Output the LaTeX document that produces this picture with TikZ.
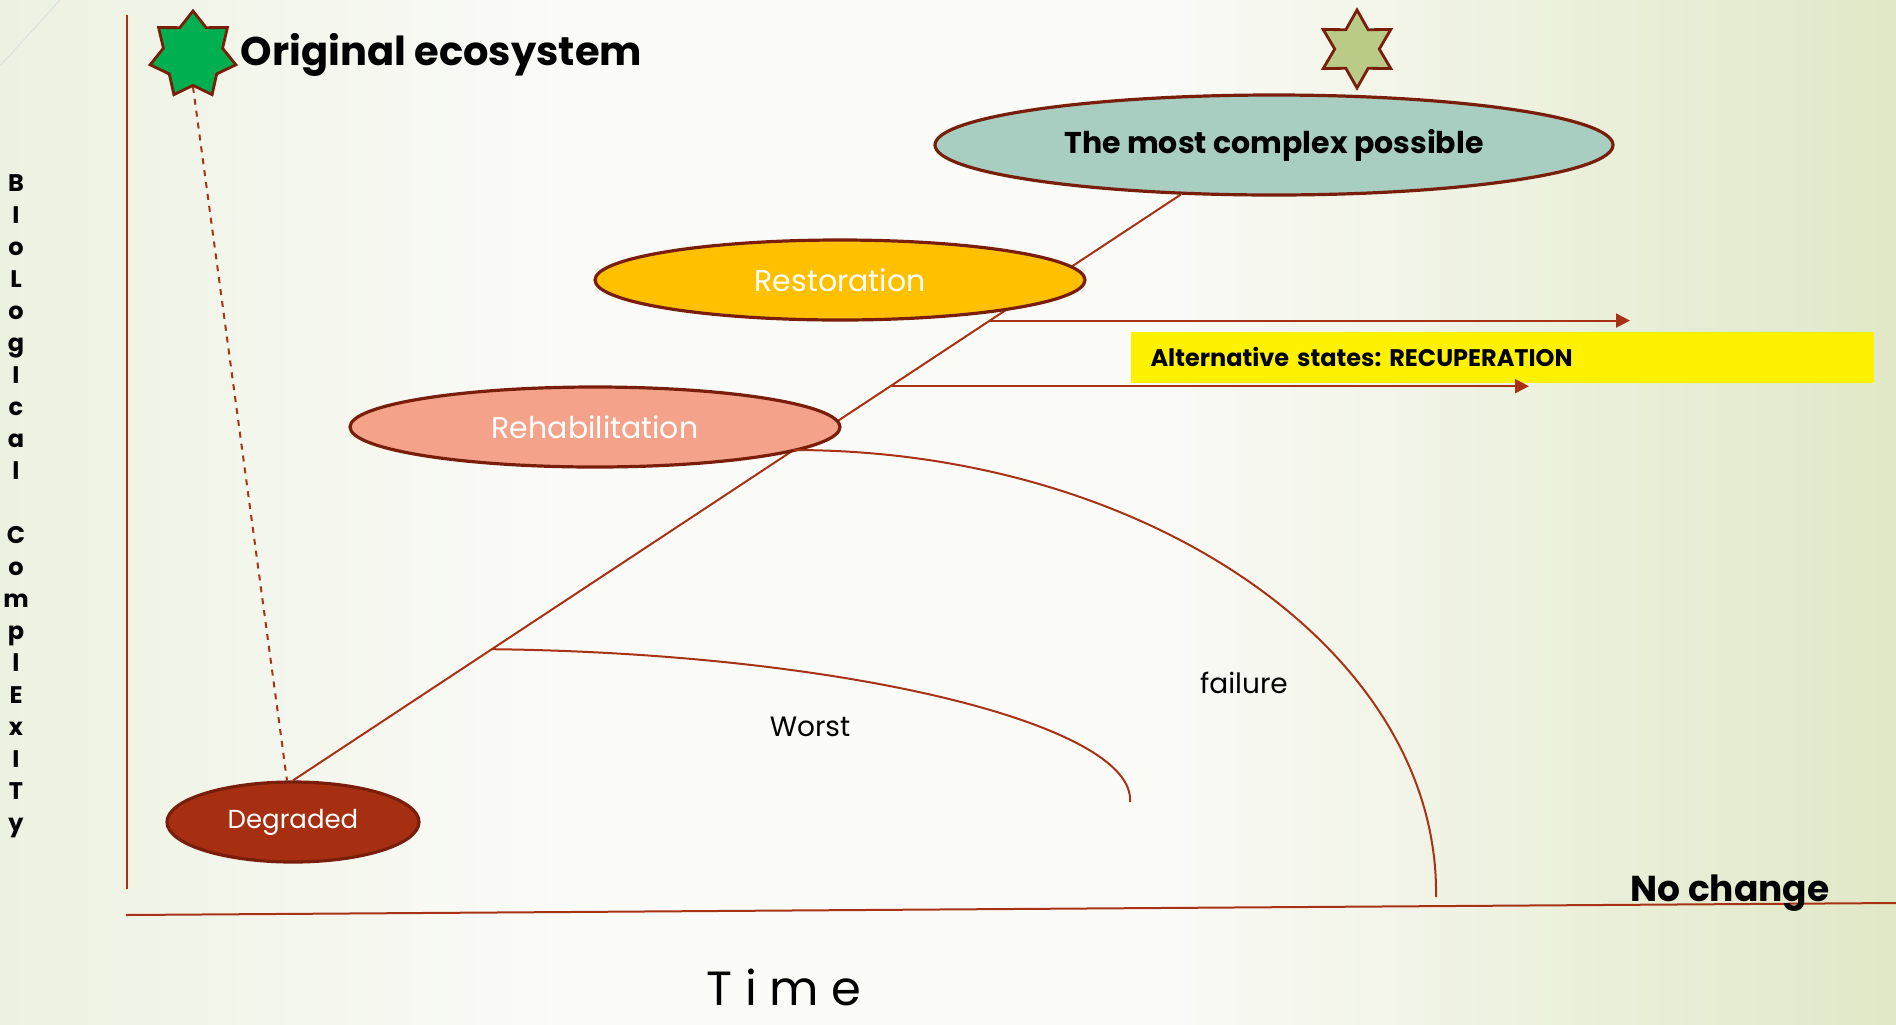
\documentclass[tikz,border=0pt]{standalone}
\usepackage{fontspec}
\setmainfont{Poppins}
\frenchspacing
\usepackage{xcolor}
\usepackage{tikz}
\usetikzlibrary{shapes.geometric,positioning,arrows.meta,backgrounds}
\definecolor{edgeRed}{RGB}{122,30,12}
\definecolor{lineRed}{RGB}{168,50,22}
\definecolor{complexFill}{RGB}{167,206,192}
\definecolor{restoreFill}{RGB}{255,192,0}
\definecolor{rehabFill}{RGB}{244,162,138}
\definecolor{degradFill}{RGB}{166,47,17}
\definecolor{starGreen}{RGB}{0,176,80}
\definecolor{starOlive}{RGB}{185,203,134}
\definecolor{bgLeft}{RGB}{236,242,225}
\definecolor{bgMid}{RGB}{251,251,248}
\definecolor{bgRight}{RGB}{224,232,199}
% the path box is mapped onto 25bp..75bp
\pgfdeclarehorizontalshading{slideShade}{100bp}{color(0bp)=(bgLeft); color(25bp)=(bgLeft); color(40bp)=(bgMid); color(55bp)=(bgMid); color(75bp)=(bgRight); color(100bp)=(bgRight)}
\tikzset{
	stage/.style={ellipse, draw=edgeRed, line width=1.6pt, inner sep=0pt, text=white, font=\fontsize{15}{18}\selectfont},
	goal/.style={star, draw=edgeRed, line width=1.4pt, inner sep=0pt},
	curve/.style={draw=lineRed, line width=1pt},
	recup/.style={curve, -{Triangle[length=7pt,width=7pt]}},
	curveLabel/.style={font=\fontsize{14}{16}\selectfont}
}

\begin{document}
\begin{tikzpicture}[x=0.5pt, y=-0.5pt]
	\useasboundingbox (0,0) rectangle (1896,1024);
	\begin{scope}[on background layer]
		\shade[shading=slideShade] (0,0) rectangle (1896,1024);
	\end{scope}
	\draw[draw=black!12, line width=0.5pt] (0,66) -- (60,0);
	
	% axes
	\draw[curve] (127,15) -- (127,889);
	\draw[curve] (126,915) -- (1896,903);
	
	\node[goal, star points=7, star point ratio=1.45, minimum size=44pt, fill=starGreen] (origStar) at (193,55) {};
	\node[right=2pt of origStar, font=\bfseries\fontsize{20}{24}\selectfont] (origText) {Original ecosystem};
	\node[goal, star points=6, star point ratio=1.75, minimum size=39pt, fill=starOlive] (bestStar) at (1357,49) {};
	
	\node[stage, minimum width=339pt, minimum height=50pt, fill=complexFill, text=black, font=\bfseries\fontsize{15}{18}\selectfont] (complex) at (1274,145) {The most complex possible};
	\node[stage, minimum width=245pt, minimum height=40pt, fill=restoreFill] (restore) at (840,280) {Restoration};
	\node[stage, minimum width=245pt, minimum height=40pt, fill=rehabFill] (rehab) at (595,427) {Rehabilitation};
	\node[stage, minimum width=126pt, minimum height=40pt, fill=degradFill, font=\fontsize{13}{16}\selectfont] (degrad) at (293,822) {Degraded};
	
	\begin{scope}[on background layer]
		\draw[curve] (degrad.north) -- coordinate[pos=0.224] (worstStart) coordinate[pos=0.564] (failStart)
			coordinate[pos=0.673] (recupLow) coordinate[pos=0.785] (recupHigh) (complex.208);
	\end{scope}
	
	\draw[curve, dash pattern=on 3pt off 3pt] (origStar.south) -- ([xshift=-3pt]degrad.north);
	
	\node[fill=yellow, minimum width=371.5pt, minimum height=25.5pt, inner xsep=10pt, text width=351.5pt, align=left,
		font=\bfseries\fontsize{12}{14}\selectfont] (recupBox) at (1502,357) {Alternative states: RECUPERATION};
	\coordinate (recupHighEnd) at (1630,320);
	\coordinate (recupLowEnd) at (1529,387);
	\draw[recup] (recupHigh) -- (recupHigh -| recupHighEnd);
	\draw[recup] (recupLow) -- (recupLow -| recupLowEnd);
	
	\coordinate (worstEnd) at (1130,802);
	\coordinate (failEnd) at (1436,897);
	\draw[curve] (worstStart) .. controls +(354,4) and +(6,-77) .. (worstEnd);
	\draw[curve] (failStart) .. controls +(354,0) and +(4,-245) .. (failEnd);
	
	\node[curveLabel] (worstText) at (810,727) {Worst};
	\node[curveLabel] (failText) at (1244,683) {failure};
	\node[anchor=base, font=\bfseries\fontsize{18}{20}\selectfont] (noChange) at (1730,901) {No change};
	\node[anchor=base, inner sep=0pt, font=\fontsize{24}{28}\selectfont] (timeText) at (784,1005) {T i m e};
	\node[align=center, font=\bfseries\fontsize{12}{16}\selectfont] (complexity) at (16,506)
		{B\\I\\o\\L\\o\\g\\I\\c\\a\\l\\[16pt]C\\o\\m\\p\\l\\E\\x\\I\\T\\y};
\end{tikzpicture}
\end{document}
